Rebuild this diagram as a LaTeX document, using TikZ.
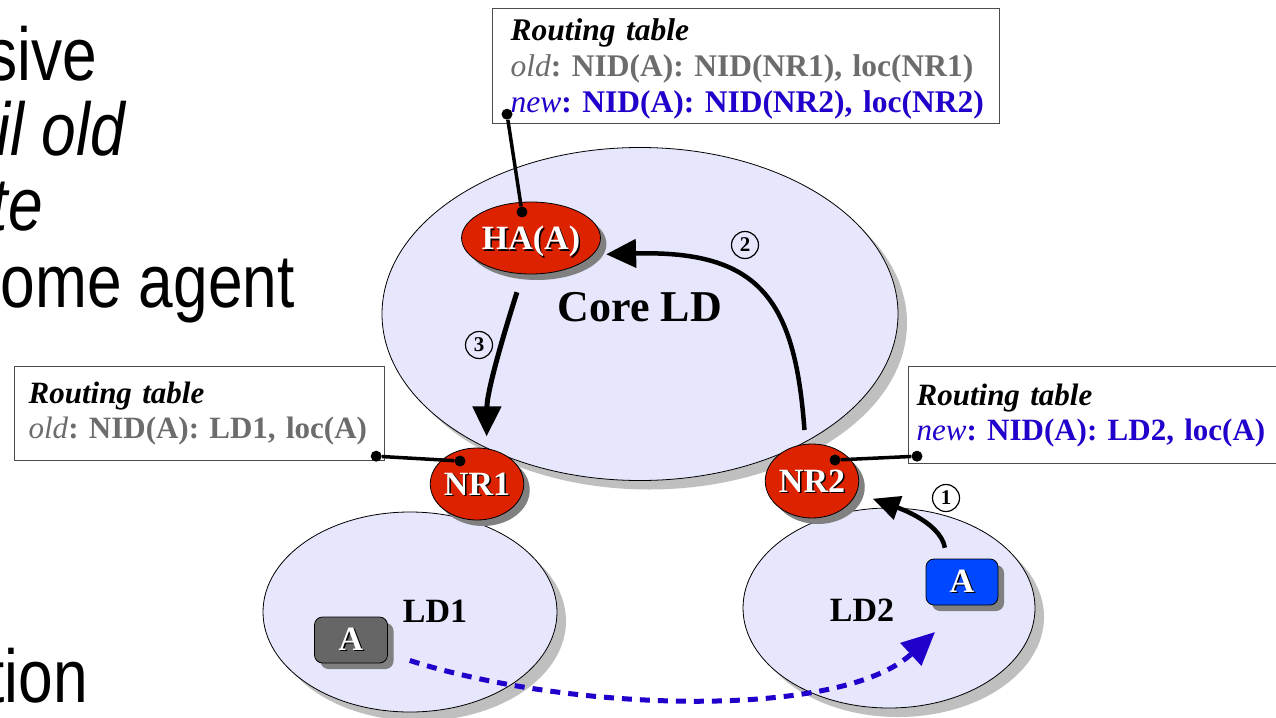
\documentclass[tikz,border=0pt]{standalone}
\usepackage{graphicx}
\usepackage{fontspec}
\setmainfont{Liberation Serif}
\newfontfamily\slidefont{Liberation Sans}
\usepackage{tikz}
\usetikzlibrary{arrows.meta, shapes.geometric, shadows, calc}
\frenchspacing

\definecolor{ldfill}{RGB}{230,230,252}
\definecolor{nrred}{RGB}{221,34,0}
\definecolor{newblue}{RGB}{34,0,204}
\definecolor{oldgray}{RGB}{108,108,108}
\definecolor{hostgray}{RGB}{102,102,102}
\definecolor{hostblue}{RGB}{0,72,255}

\newcommand{\embossed}[1]{\makebox[0pt][l]{\kern1.5pt\raisebox{-1.5pt}{\textcolor{black}{#1}}}\textcolor{white}{#1}}

\tikzset{
  ldarea/.style={ellipse, draw, fill=ldfill, line width=0.8pt, inner sep=0pt,
    drop shadow={shadow xshift=9pt, shadow yshift=-9pt, fill=black!25, opacity=1}},
  router/.style={ellipse, draw, fill=nrred, line width=0.8pt, inner sep=0pt,
    text depth=0pt, font=\fontsize{34}{34}\selectfont\bfseries,
    drop shadow={shadow xshift=6pt, shadow yshift=-6pt, fill=black!50, opacity=1}},
  host/.style={rectangle, rounded corners=8pt, draw, line width=0.8pt, inner sep=0pt,
    minimum width=72pt, minimum height=46pt, font=\fontsize{34}{34}\selectfont\bfseries,
    drop shadow={shadow xshift=6pt, shadow yshift=-6pt, fill=black!50, opacity=1}},
  rtable/.style={rectangle, draw=black!70, line width=1.2pt, fill=white, align=left,
    anchor=north west, inner ysep=0pt},
  ldname/.style={font=\fontsize{34}{34}\selectfont\bfseries, inner sep=0pt},
  pindot/.style={circle, fill, inner sep=0pt, minimum size=11pt},
  pinline/.style={line width=3.5pt},
  hop/.style={line width=4.5pt, -{Triangle[length=30pt, width=28pt]}},
  move/.style={newblue, line width=5pt, dash pattern=on 10pt off 8pt,
    -{Triangle[length=33pt, width=30pt]}},
  hopnum/.style={circle, draw, line width=1.2pt, inner sep=0pt, minimum size=27pt,
    font=\fontsize{21}{21}\selectfont\bfseries},
  slide/.style={anchor=base east, inner sep=0pt, font=\slidefont\fontsize{75}{76}\selectfont}
}

\begin{document}
\begin{tikzpicture}[x=1pt, y=-1pt]
  \useasboundingbox (0,0) rectangle (1276,717);
  \clip (0,0) rectangle (1276,717);
  \fill[white] (0,0) rectangle (1276,717);

  % domains
  \node[ldarea, minimum width=516pt, minimum height=333pt] (core) at (640,314) {};
  \node[ldarea, minimum width=294pt, minimum height=200pt] (ld1) at (410,612) {};
  \node[ldarea, minimum width=292pt, minimum height=200pt] (ld2) at (889,608) {};
  \node[font=\fontsize{44}{44}\selectfont\bfseries, inner sep=0pt] (coreName) at (640,307) {Core LD};
  \node[ldname] (ld1Name) at (435,611) {LD1};
  \node[ldname] (ld2Name) at (862,610) {LD2};

  % routing tables
  \node[rtable, minimum width=507pt, minimum height=115pt, text width=471pt, inner xsep=18pt,
        font=\fontsize{31.5}{36}\selectfont] (tabTop) at (492,8)
    {\rule{0pt}{27.5pt}\textbf{\textit{Routing table}}\\
     \mbox{\textcolor{oldgray}{\textit{old}\textbf{: NID(A): NID(NR1), loc(NR1)}}}\\
     \mbox{\textcolor{newblue}{\textit{new}\textbf{: NID(A): NID(NR2), loc(NR2)}}}};
  \node[rtable, minimum width=370pt, minimum height=94pt, text width=342pt, inner xsep=14pt,
        font=\fontsize{31}{35}\selectfont] (tabLeft) at (14,366)
    {\textbf{\textit{Routing table}}\\
     \mbox{\textcolor{oldgray}{\textit{old}\textbf{: NID(A): LD1, loc(A)}}}};
  \node[rtable, minimum width=382pt, minimum height=97pt, text width=366pt, inner xsep=8pt,
        font=\fontsize{31}{35}\selectfont] (tabRight) at (908,366)
    {\textbf{\textit{Routing table}}\\
     \mbox{\textcolor{newblue}{\textit{new}\textbf{: NID(A): LD2, loc(A)}}}};

  % routers and hosts
  \node[router, minimum width=118pt, minimum height=72pt] (ha) at (531,238) {\embossed{HA(A)}};
  \node[router, minimum width=90pt, minimum height=72pt] (nr1) at (477,484) {\embossed{NR1}};
  \node[router, minimum width=90pt, minimum height=74pt] (nr2) at (812,481) {\embossed{NR2}};
  \node[host, fill=hostgray, minimum width=73pt] (aold) at (351,640) {\embossed{A}};
  \node[host, fill=hostblue] (anew) at (962,582) {\embossed{A}};

  % pins from tables
  \node[pindot] (dTop) at ($(tabTop.south west)+(15,-10)$) {};
  \node[pindot] (dHA) at ($(ha)+(-9,-26)$) {};
  \node[pindot] (dLeft) at ($(tabLeft.south east)+(-9,-5)$) {};
  \node[pindot] (dNR1) at ($(nr1)+(-17,-23)$) {};
  \node[pindot] (dNR2) at ($(nr2)+(23,-21)$) {};
  \node[pindot] (dRight) at ($(tabRight.south west)+(9,-8)$) {};
  \draw[pinline] (dTop) -- (dHA);
  \draw[pinline] (dLeft) -- (dNR1);
  \draw[pinline] (dNR2) -- (dRight);

  % signalling steps
  \draw[hop, -{Triangle[length=27pt, width=24pt]}, shorten <=11pt, shorten >=17pt]
    (anew.123) .. controls (940,520) and (890,505) .. (nr2.-15);
  \draw[hop, shorten <=14pt, shorten >=13pt]
    (nr2.100) .. controls (795,300) and (760,250) .. (ha.-15);
  \draw[hop, line width=5pt, shorten <=19pt, shorten >=12pt]
    (ha.-103) .. controls (505,330) and (487,390) .. (nr1.75);
  \node[hopnum] (n1) at (946,498) {1};
  \node[hopnum] (n2) at (745,245) {2};
  \node[hopnum] (n3) at (479,345) {3};

  % host movement
  \coordinate (landing) at (935,632);
  \draw[move, shorten <=23pt] (aold.-20) .. controls (570,712) and (840,720) .. (landing);

  % slide text cut at the left edge
  \node[slide] (s1) at (97,80) {\scalebox{0.83}[1]{sive}};
  \node[slide] (s2) at (125,155) {\scalebox{0.83}[1]{\itshape il old}};
  \node[slide] (s3) at (43,230) {\scalebox{0.83}[1]{\itshape te}};
  \node[slide] (s4) at (295,307) {\scalebox{0.83}[1]{ome agent}};
  \node[slide] (s5) at (88,702) {\scalebox{0.83}[1]{tion}};
\end{tikzpicture}
\end{document}
